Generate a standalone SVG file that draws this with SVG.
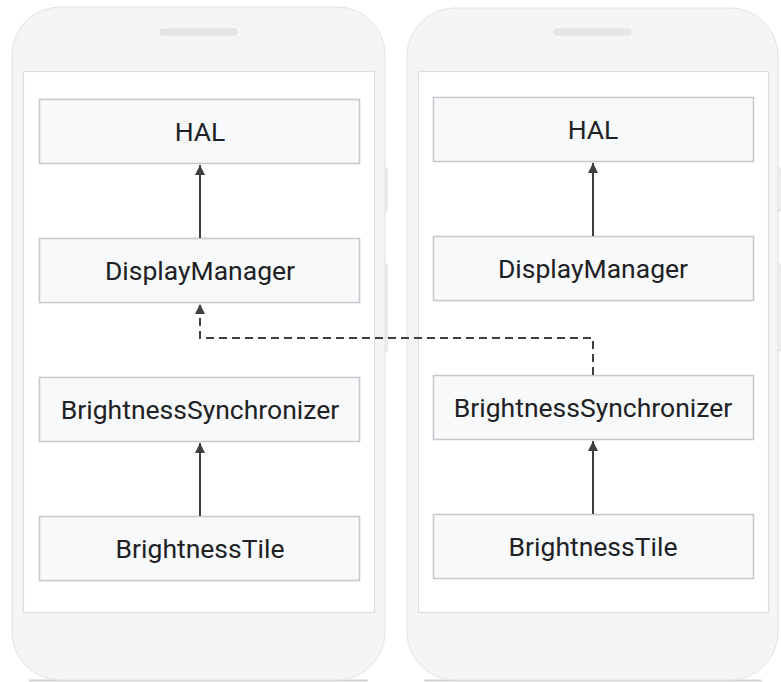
<svg xmlns="http://www.w3.org/2000/svg" width="781" height="682" viewBox="0 0 781 682">
<defs>
<style>
.body{fill:#f5f5f5;stroke:#e2e2e2;stroke-width:1}
.btn{fill:#f2f2f2;stroke:#dcdcdc;stroke-width:1}
.screen{fill:#ffffff;stroke:#dedede;stroke-width:1.2}
.spk{fill:#e6e6e6;stroke:#dadada;stroke-width:0.8}
.shadow{stroke:#d2d2d2;stroke-width:2;stroke-linecap:round}
.box{fill:#f8f9fa;stroke:#c6c9cd;stroke-width:1.6}
.lbl{font-family:Roboto,"Liberation Sans",sans-serif;font-size:26.5px;fill:#202124;text-anchor:middle}
.solid{stroke:#3c4043;stroke-width:2;fill:none}
.dash{stroke:#3c4043;stroke-width:2;fill:none;stroke-dasharray:8 5}
</style>
<marker id="ah" viewBox="0 0 10 12" refX="10" refY="6" markerWidth="10" markerHeight="12" markerUnits="userSpaceOnUse" orient="auto">
<path d="M0,1 L10,6 L0,11 Z" fill="#3c4043"/>
</marker>
</defs>

<g id="phone-left">
<rect class="btn" x="382" y="168" width="5" height="43" rx="1"/>
<rect class="btn" x="382" y="264" width="5" height="87" rx="1"/>
<line class="shadow" x1="30" y1="680.5" x2="367" y2="680.5"/>
<rect class="body" x="12" y="7" width="373" height="673" rx="48"/>
<rect class="spk" x="160" y="29" width="77" height="6" rx="3"/>
<rect class="screen" x="23.5" y="71.5" width="351" height="541"/>
</g>

<g id="phone-right">
<rect class="btn" x="776" y="168" width="5" height="43" rx="1"/>
<rect class="btn" x="776" y="264" width="5" height="87" rx="1"/>
<line class="shadow" x1="425" y1="680.5" x2="761" y2="680.5"/>
<rect class="body" x="407" y="8" width="371" height="672" rx="48"/>
<rect class="spk" x="554" y="29" width="77" height="6" rx="3"/>
<rect class="screen" x="418.5" y="71.5" width="350" height="541"/>
</g>

<g id="left-hal"><rect class="box" x="39.5" y="99.5" width="320" height="64"/><text class="lbl" x="200" y="141">HAL</text></g>
<g id="left-displaymanager"><rect class="box" x="39.5" y="238.5" width="320" height="64"/><text class="lbl" x="200" y="280">DisplayManager</text></g>
<g id="left-brightnesssynchronizer"><rect class="box" x="39.5" y="377.5" width="320" height="64"/><text class="lbl" x="200" y="419">BrightnessSynchronizer</text></g>
<g id="left-brightnesstile"><rect class="box" x="39.5" y="516.5" width="320" height="64"/><text class="lbl" x="200" y="558">BrightnessTile</text></g>

<g id="right-hal"><rect class="box" x="433.5" y="97.5" width="320" height="64"/><text class="lbl" x="593" y="139">HAL</text></g>
<g id="right-displaymanager"><rect class="box" x="433.5" y="236.5" width="320" height="64"/><text class="lbl" x="593" y="278">DisplayManager</text></g>
<g id="right-brightnesssynchronizer"><rect class="box" x="433.5" y="375.5" width="320" height="64"/><text class="lbl" x="593" y="417">BrightnessSynchronizer</text></g>
<g id="right-brightnesstile"><rect class="box" x="433.5" y="514.5" width="320" height="64"/><text class="lbl" x="593" y="556">BrightnessTile</text></g>

<g id="connectors">
<line class="solid" x1="200" y1="238" x2="200" y2="165" marker-end="url(#ah)"/>
<line class="solid" x1="200" y1="516" x2="200" y2="443" marker-end="url(#ah)"/>
<line class="solid" x1="593" y1="236" x2="593" y2="163" marker-end="url(#ah)"/>
<line class="solid" x1="593" y1="514" x2="593" y2="441" marker-end="url(#ah)"/>
<polyline class="dash" points="593,375 593,338 200,338 200,304" marker-end="url(#ah)"/>
</g>
</svg>
